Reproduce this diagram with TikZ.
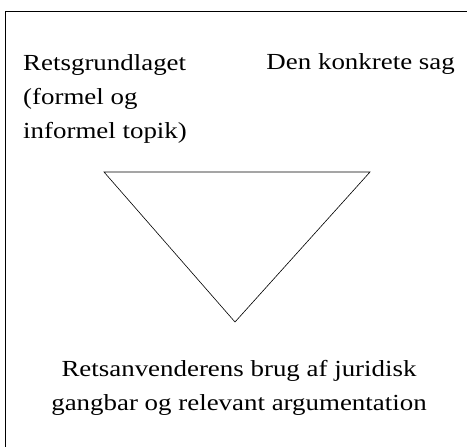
\documentclass[tikz,border=0pt]{standalone}
\usepackage{fontspec}
\setmainfont{Liberation Serif}[FakeStretch=1.17]
\begin{document}
\begin{tikzpicture}[x=1pt,y=-1pt,
  lbl/.style={inner sep=0pt,font=\fontsize{23}{34}\selectfont},
  frame/.style={line width=0.8pt},
  tri/.style={line width=0.6pt}]
\useasboundingbox (0,0) rectangle (467,447);
\draw[frame] (5,460) -- (5,11) -- (480,11);
\node[lbl,anchor=base west,align=left] (basis) at (23,138) {Retsgrundlaget\\(formel og\\informel topik)};
\node[lbl,anchor=base east] (sag) at (455,70) {Den konkrete sag};
\coordinate (tl) at (104,172);
\coordinate (tr) at (370,172);
\coordinate (bt) at (235,322);
\draw[tri] (tl) -- (tr) -- (bt) -- cycle;
\node[lbl,anchor=base,align=center] (arg) at (239,410) {Retsanvenderens brug af juridisk\\gangbar og relevant argumentation};
\end{tikzpicture}
\end{document}
